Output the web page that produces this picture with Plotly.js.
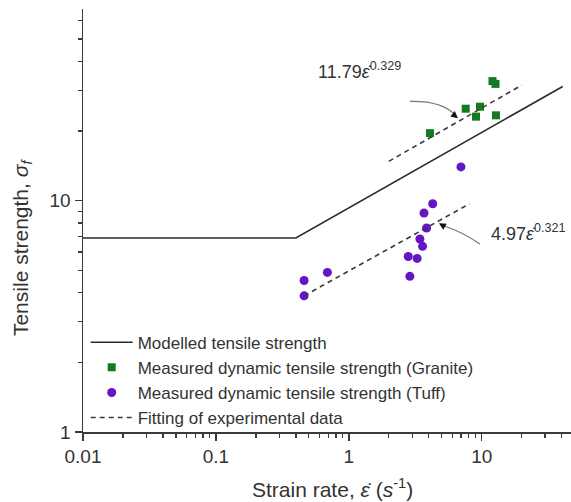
<!DOCTYPE html>
<html>
<head>
<meta charset="utf-8">
<script src="https://cdn.plot.ly/plotly-3.0.1.min.js"></script>
<style>html,body{margin:0;padding:0;background:#fff;}#chart{width:571px;height:502px;}</style>
</head>
<body>
<div id="chart"></div>
<script>
// Modelled tensile strength (piecewise line)
const modelX = [0.01, 0.4, 40.7];
const modelY = [6.9, 6.9, 31.2];

// Measured dynamic tensile strength (Granite)
const graniteX = [4.08, 7.58, 9.71, 9.06, 12.8, 12.06, 12.7];
const graniteY = [19.6, 25.0, 25.5, 23.1, 23.4, 32.9, 32.0];

// Measured dynamic tensile strength (Tuff)
const tuffX = [6.98, 4.28, 3.68, 3.85, 3.43, 3.59, 2.80, 3.27, 2.88, 0.69, 0.461, 0.461];
const tuffY = [14.0, 9.70, 8.85, 7.62, 6.83, 6.35, 5.74, 5.63, 4.71, 4.90, 4.52, 3.88];

// Fitting lines (end points)
const fitGraniteX = [2.0, 20.0];
const fitGraniteY = [14.8, 31.6];
const fitTuffX = [0.461, 8.1];
const fitTuffY = [3.88, 9.7];

// Tick labels
const xTickVals = [0.01, 0.1, 1, 10];
const xTickText = ['0.01', '0.1', '1', '10'];
const xMinor = [0.02,0.03,0.04,0.05,0.06,0.07,0.08,0.09,0.2,0.3,0.4,0.5,0.6,0.7,0.8,0.9,2,3,4,5,6,7,8,9,20,30,40];
const yTickVals = [1, 10];
const yTickText = ['1', '10'];
const yMinor = [2,3,4,5,6,7,8,9,20,30,40,50,60];

const FONT = 'Arial, "Liberation Sans", Helvetica, sans-serif';
const TXT = '#333333';
const AX = '#3a3a3a';

const traces = [
  {x: modelX, y: modelY, mode: 'lines', name: 'Modelled tensile strength',
   line: {color: '#2b2b2b', width: 1.6}},
  {x: graniteX, y: graniteY, mode: 'markers', name: 'Measured dynamic tensile strength (Granite)',
   marker: {symbol: 'square', size: 8, color: '#137a1f'}},
  {x: tuffX, y: tuffY, mode: 'markers', name: 'Measured dynamic tensile strength (Tuff)',
   marker: {symbol: 'circle', size: 9, color: '#6416c4'}},
  {x: fitGraniteX, y: fitGraniteY, mode: 'lines', name: 'Fitting of experimental data',
   line: {color: '#3a3a3a', width: 1.6, dash: '5px,4px'}},
  {x: fitTuffX, y: fitTuffY, mode: 'lines', name: 'Fitting of experimental data', showlegend: false,
   line: {color: '#3a3a3a', width: 1.6, dash: '5px,4px'}}
];

const px = v => (v - 83.3) / 487.7;
const py = v => (432.3 - v) / 423;

const layout = {
  width: 571, height: 502,
  margin: {l: 83.3, r: 0, t: 9.3, b: 69.7},
  paper_bgcolor: '#fff', plot_bgcolor: '#fff',
  font: {family: FONT, color: TXT},
  showlegend: true,
  legend: {x: px(86), y: py(325), xanchor: 'left', yanchor: 'top',
           bgcolor: 'rgba(0,0,0,0)', font: {size: 17, family: FONT, color: TXT},
           traceorder: 'normal', itemwidth: 42},
  xaxis: {type: 'log', range: [-2, 1.672], showline: true, linecolor: AX, linewidth: 1.5,
          showgrid: false, zeroline: false, ticks: 'outside', ticklen: 7, tickwidth: 1.5, tickcolor: AX,
          tickmode: 'array', tickvals: xTickVals, ticktext: xTickText,
          tickfont: {size: 19, family: FONT, color: TXT},
          minor: {tickmode: 'array', tickvals: xMinor, ticks: 'outside', ticklen: 4, tickwidth: 1.3, tickcolor: AX}},
  yaxis: {type: 'log', range: [0, 1.829], showline: true, linecolor: AX, linewidth: 1.5,
          showgrid: false, zeroline: false, ticks: 'outside', ticklen: 7, tickwidth: 1.5, tickcolor: AX,
          tickmode: 'array', tickvals: yTickVals, ticktext: yTickText,
          tickfont: {size: 19, family: FONT, color: TXT},
          minor: {tickmode: 'array', tickvals: yMinor, ticks: 'outside', ticklen: 4, tickwidth: 1.3, tickcolor: AX}},
  shapes: [
    {type: 'path', xref: 'paper', yref: 'paper',
     path: `M ${px(410)} ${py(101.7)} Q ${px(442)} ${py(101)} ${px(455)} ${py(115)}`,
     line: {color: '#777', width: 1.2}},
    {type: 'path', xref: 'paper', yref: 'paper',
     path: `M ${px(480)} ${py(244.3)} Q ${px(462)} ${py(232)} ${px(445)} ${py(226.5)}`,
     line: {color: '#777', width: 1.2}}
  ],
  annotations: [
    {xref: 'paper', yref: 'paper', x: px(316), y: py(71), xanchor: 'left', yanchor: 'middle',
     text: '11.79<i>ε̇</i><sup>0.329</sup>', showarrow: false, font: {size: 18, family: FONT, color: TXT}},
    {xref: 'paper', yref: 'paper', x: px(489), y: py(233), xanchor: 'left', yanchor: 'middle',
     text: '4.97<i>ε̇</i><sup>0.321</sup>', showarrow: false, font: {size: 18, family: FONT, color: TXT}},
    {xref: 'paper', yref: 'paper', x: px(458), y: py(118.5), ax: -6, ay: -5, text: ' ',
     showarrow: true, arrowhead: 2, arrowsize: 1, arrowwidth: 1.4, arrowcolor: '#111'},
    {xref: 'paper', yref: 'paper', x: px(439), y: py(223.5), ax: 7, ay: 4, text: ' ',
     showarrow: true, arrowhead: 2, arrowsize: 1, arrowwidth: 1.4, arrowcolor: '#111'},
    {xref: 'paper', yref: 'paper', x: px(333), y: py(488), xanchor: 'center', yanchor: 'middle',
     text: 'Strain rate, <i>ε̇</i> (<i>s</i><sup>-1</sup>)', showarrow: false,
     font: {size: 21, family: FONT, color: TXT}},
    {xref: 'paper', yref: 'paper', x: px(21.7), y: py(248), xanchor: 'center', yanchor: 'middle',
     textangle: -90, text: 'Tensile strength, <i>σ</i><sub><i>f</i></sub>', showarrow: false,
     font: {size: 21, family: FONT, color: TXT}}
  ]
};

Plotly.newPlot('chart', traces, layout, {displayModeBar: false, staticPlot: true});
</script>
</body>
</html>
